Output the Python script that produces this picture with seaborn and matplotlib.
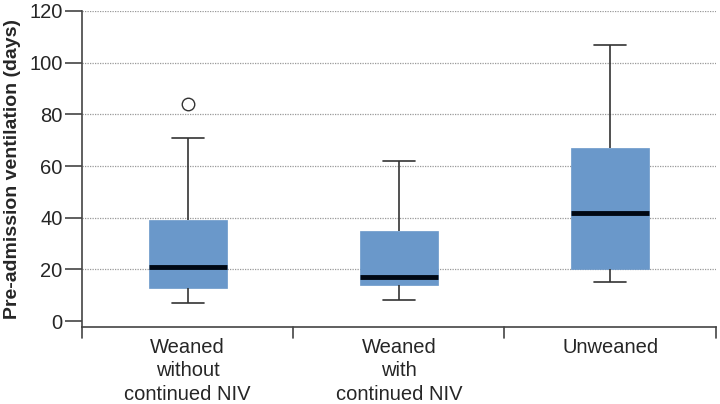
import seaborn as sns
import pandas as pd
import matplotlib.pyplot as plt

# per-group samples chosen so the box stats match the picture
weaned_without = [7, 10, 13, 17, 21, 30, 39, 71, 84]
weaned_with = [8, 14, 17, 35, 62]
unweaned = [15, 20, 42, 67, 107]
groups = ['Weaned\nwithout\ncontinued NIV', 'Weaned\nwith\ncontinued NIV', 'Unweaned']

BOX_COLOR = '#6a98ca'

df = pd.DataFrame({
    'group': [groups[0]] * len(weaned_without) + [groups[1]] * len(weaned_with) + [groups[2]] * len(unweaned),
    'days': weaned_without + weaned_with + unweaned,
})

sns.set_style('white')
plt.rcParams['font.family'] = ['Liberation Sans', 'DejaVu Sans']

fig = plt.figure(figsize=(7.2, 4.04), dpi=100)
ax = fig.add_axes([0.114, 0.191, 0.88, 0.782])

sns.boxplot(
    data=df, x='group', y='days', order=groups, ax=ax,
    color=BOX_COLOR, saturation=1, width=0.37, whis=1.5,
    boxprops={'edgecolor': BOX_COLOR, 'linewidth': 0.5},
    whiskerprops={'color': '#333333', 'linewidth': 1.2},
    capprops={'color': '#333333', 'linewidth': 1.2},
    medianprops={'color': '#000814', 'linewidth': 3.5},
    flierprops={'marker': 'o', 'markerfacecolor': 'white', 'markeredgecolor': '#333333',
                'markersize': 9, 'markeredgewidth': 1.0},
    capwidths=0.15, zorder=3,
)

ax.set_ylim(-2.2, 120)
ax.set_xlim(-0.5, 2.5)
ax.set_yticks(range(0, 121, 20))
for y in range(20, 121, 20):
    ax.axhline(y, color='#999999', linestyle=(0, (1, 1)), linewidth=0.9, zorder=1)

# x ticks sit on the category boundaries, labels centred under the boxes
ax.set_xticks([0, 1, 2])
ax.set_xticklabels(groups, fontsize=14.5, linespacing=1.3)
ax.tick_params(axis='x', length=0, pad=8)
for b in [-0.5, 0.5, 1.5, 2.5]:
    ax.plot([b, b], [0, -0.035], transform=ax.get_xaxis_transform(), color='#444444',
            linewidth=1.2, clip_on=False)

ax.tick_params(axis='y', labelsize=14.5, length=12, width=1.2, color='#444444', pad=2, left=True)
for s in ['top', 'right']:
    ax.spines[s].set_visible(False)
for s in ['left', 'bottom']:
    ax.spines[s].set_color('#444444')
    ax.spines[s].set_linewidth(1.2)

ax.set_xlabel('')
ax.set_ylabel('Pre-admission ventilation (days)', fontsize=14, fontweight='bold', labelpad=6)

fig.savefig('out.png', dpi=100)
